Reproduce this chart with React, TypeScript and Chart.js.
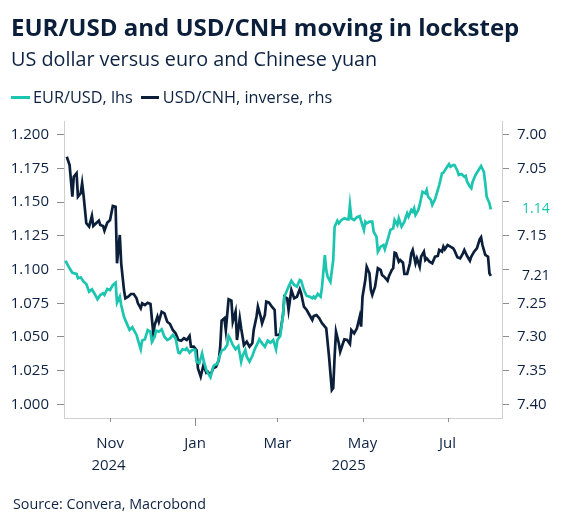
import { useEffect, useRef } from "react";
import { Chart, registerables } from "chart.js";

Chart.register(...registerables);

// Days are counted from 1 January 2025 (negative = 2024)
const EUR_DAYS = [
  -93, -90, -88, -85, -84, -82, -80, -78, -76, -74, -72, -70, -68, -66, -65, -63, -61, -59, -57, -56,
  -54, -53, -51, -49, -47, -45, -42, -41, -39, -38, -36, -34, -32, -31, -29, -28, -26, -24, -22, -20,
  -18, -16, -14, -12, -11, -9, -7, -6, -4, -2, 0, 1, 3, 5, 6, 8, 9, 11, 13, 14,
  16, 17, 19, 21, 23, 24, 25, 27, 29, 31, 33, 34, 36, 37, 39, 41, 43, 45, 46, 48,
  50, 52, 54, 56, 58, 59, 61, 63, 64, 66, 67, 69, 71, 73, 75, 76, 78, 80, 82, 84,
  85, 86, 88, 90, 91, 93, 94, 95, 97, 99, 100, 102, 103, 105, 107, 109, 110, 111, 112, 114,
  116, 118, 119, 121, 122, 123, 125, 127, 128, 130, 131, 133, 135, 136, 138, 140, 142, 143, 145, 146,
  148, 150, 152, 153, 155, 156, 157, 158, 160, 161, 163, 165, 166, 167, 169, 170, 172, 174, 175, 177,
  178, 180, 182, 183, 185, 186, 188, 189, 191, 193, 194, 195, 197, 198, 199, 201, 202, 204, 205, 207,
  208, 209, 211, 212,
];
const EUR_VALUES = [
  1.1065, 1.1009, 1.0976, 1.0967, 1.0935, 1.0942, 1.091, 1.0893, 1.0836, 1.0853, 1.0819, 1.0779, 1.0811, 1.0824, 1.0811, 1.0856, 1.0848, 1.0885, 1.0902, 1.0754,
  1.0799, 1.0737, 1.065, 1.0601, 1.0552, 1.0572, 1.0515, 1.0478, 1.0409, 1.0473, 1.0483, 1.0552, 1.0539, 1.0465, 1.0502, 1.0547, 1.0539, 1.0557, 1.0502, 1.0478,
  1.049, 1.0515, 1.049, 1.0384, 1.0379, 1.0409, 1.0404, 1.0416, 1.0384, 1.0404, 1.0404, 1.0317, 1.0305, 1.0379, 1.033, 1.0256, 1.0236, 1.0201, 1.028, 1.0293,
  1.03, 1.0342, 1.0399, 1.0409, 1.0441, 1.0507, 1.049, 1.0441, 1.0409, 1.0433, 1.0317, 1.0359, 1.0404, 1.0354, 1.0317, 1.0359, 1.0416, 1.0458, 1.0483, 1.0453,
  1.0428, 1.0473, 1.0458, 1.0478, 1.0409, 1.0478, 1.0507, 1.0663, 1.0799, 1.0848, 1.0873, 1.0917, 1.0885, 1.0873, 1.0922, 1.0917, 1.0848, 1.0804, 1.0799, 1.0787,
  1.0799, 1.0787, 1.0819, 1.0799, 1.0873, 1.1107, 1.0996, 1.0947, 1.091, 1.107, 1.1317, 1.1361, 1.1342, 1.1367, 1.1379, 1.1372, 1.1372, 1.1478, 1.1379, 1.1367,
  1.1387, 1.1396, 1.1361, 1.1293, 1.1354, 1.1342, 1.1354, 1.1354, 1.128, 1.1243, 1.1132, 1.1169, 1.1181, 1.115, 1.1219, 1.1293, 1.1305, 1.1367, 1.133, 1.1379,
  1.1317, 1.1354, 1.1416, 1.1391, 1.1441, 1.1428, 1.1453, 1.1404, 1.1441, 1.1478, 1.1576, 1.1564, 1.1589, 1.1539, 1.1515, 1.1478, 1.152, 1.1589, 1.1626, 1.1713,
  1.1717, 1.175, 1.1781, 1.1761, 1.1774, 1.1774, 1.1732, 1.17, 1.1707, 1.1687, 1.1693, 1.165, 1.1613, 1.1601, 1.165, 1.17, 1.1717, 1.175, 1.1767, 1.1724,
  1.1639, 1.1539, 1.149, 1.1445,
];

const CNH_DAYS = [
  -92, -90, -88, -87, -85, -84, -82, -81, -80, -78, -76, -74, -73, -71, -69, -68, -66, -65, -63, -61,
  -59, -57, -56, -54, -53, -51, -50, -48, -46, -44, -42, -41, -39, -38, -36, -34, -32, -30, -29, -27,
  -26, -24, -22, -20, -18, -16, -14, -12, -10, -8, -6, -4, -3, -1, 1, 2, 4, 6, 8, 9,
  11, 13, 15, 17, 18, 19, 21, 22, 24, 26, 27, 29, 30, 32, 33, 35, 37, 39, 41, 42,
  44, 45, 47, 48, 50, 51, 53, 55, 57, 58, 60, 61, 63, 64, 66, 67, 69, 71, 73, 75,
  76, 78, 80, 82, 84, 85, 87, 89, 91, 92, 94, 96, 98, 99, 100, 101, 103, 104, 106, 107,
  109, 111, 112, 114, 116, 118, 119, 120, 122, 123, 125, 126, 127, 129, 131, 133, 134, 136, 138, 139,
  141, 142, 143, 144, 146, 147, 149, 150, 152, 154, 155, 156, 158, 159, 161, 162, 164, 165, 166, 168,
  170, 172, 174, 175, 177, 178, 179, 181, 183, 185, 186, 188, 190, 192, 193, 195, 197, 198, 200, 202,
  204, 205, 206, 208, 210, 211, 212,
];
const CNH_VALUES = [
  7.0329, 7.0452, 7.0921, 7.0625, 7.0575, 7.0921, 7.0871, 7.0723, 7.0896, 7.1316, 7.1366, 7.1207, 7.1356, 7.1316, 7.1277, 7.1341, 7.1356, 7.1425, 7.1307, 7.1267,
  7.1059, 7.107, 7.1908, 7.1489, 7.1908, 7.2304, 7.2427, 7.2403, 7.2363, 7.2363, 7.2427, 7.2501, 7.2575, 7.2501, 7.2526, 7.2492, 7.2511, 7.2945, 7.2822, 7.2699,
  7.2773, 7.2625, 7.2649, 7.2773, 7.2807, 7.2896, 7.2945, 7.3044, 7.3055, 7.3019, 7.3044, 7.2985, 7.3144, 7.3144, 7.3193, 7.3464, 7.3588, 7.3415, 7.3529, 7.3514,
  7.3563, 7.3464, 7.344, 7.3341, 7.3144, 7.2759, 7.2723, 7.2896, 7.2441, 7.2462, 7.2773, 7.2625, 7.3044, 7.2723, 7.2871, 7.3119, 7.307, 7.3144, 7.3093, 7.2896,
  7.2699, 7.2551, 7.2699, 7.2797, 7.2674, 7.2477, 7.2492, 7.2551, 7.26, 7.297, 7.297, 7.2945, 7.2674, 7.2403, 7.2427, 7.26, 7.2304, 7.2427, 7.2403, 7.2293,
  7.2353, 7.2551, 7.26, 7.2674, 7.2748, 7.2689, 7.2674, 7.2723, 7.2797, 7.2822, 7.2871, 7.3292, 7.3785, 7.3756, 7.3292, 7.2921, 7.3093, 7.3218, 7.3093, 7.3034,
  7.3044, 7.3104, 7.2896, 7.2945, 7.2871, 7.2699, 7.2847, 7.2403, 7.2156, 7.1959, 7.2056, 7.2304, 7.2378, 7.2255, 7.1982, 7.2007, 7.2081, 7.2116, 7.2166, 7.2096,
  7.2007, 7.1982, 7.1751, 7.176, 7.1884, 7.1859, 7.1899, 7.2067, 7.2067, 7.1908, 7.176, 7.1711, 7.1908, 7.1834, 7.1959, 7.181, 7.1736, 7.1859, 7.1834, 7.1884,
  7.1908, 7.181, 7.18, 7.1711, 7.1736, 7.1662, 7.1701, 7.1637, 7.1662, 7.1686, 7.1721, 7.1819, 7.1834, 7.176, 7.1711, 7.18, 7.187, 7.181, 7.1736, 7.1686,
  7.1553, 7.1523, 7.1637, 7.1785, 7.181, 7.2056, 7.2096,
];

const MONTH_TICK_DAYS = [-61, 0, 59, 120, 181];
const MONTH_LABELS = ["Nov", "Jan", "Mar", "May", "Jul"];
const YEAR_LABELS = ["2024", "2025"];
const LEFT_TICKS = [1.0, 1.025, 1.05, 1.075, 1.1, 1.125, 1.15, 1.175, 1.2];
const RIGHT_TICKS = [7.0, 7.05, 7.1, 7.15, 7.2, 7.25, 7.3, 7.35, 7.4];

const X_MIN = -94;
const X_MAX = 220;
const L_MIN = 0.99;
const L_MAX = 1.21;
const R_MIN = 6.98;
const R_MAX = 7.42;

const TITLE = "EUR/USD and USD/CNH moving in lockstep";
const SUBTITLE = "US dollar versus euro and Chinese yuan";
const LEGEND_EUR = "EUR/USD, lhs";
const LEGEND_CNH = "USD/CNH, inverse, rhs";
const SOURCE = "Source: Convera, Macrobond";

const TEAL = "#1cc5b0";
const NAVY = "#0b1f3a";
const TEXT = "#0d2242";
const FONT = "'Open Sans', sans-serif";

const EUR_LAST = EUR_VALUES[EUR_VALUES.length - 1];
const CNH_LAST = CNH_VALUES[CNH_VALUES.length - 1];
const EUR_ON_RIGHT = R_MIN + ((L_MAX - EUR_LAST) / (L_MAX - L_MIN)) * (R_MAX - R_MIN);

const overlayPlugin = {
  id: "overlay",
  afterDraw(chart: any) {
    const { ctx, chartArea, scales } = chart;
    const x = scales.x;
    const yL = scales.yL;
    const yR = scales.yR;
    ctx.save();
    // x tick marks (year start is longer)
    ctx.strokeStyle = "#8c8c8c";
    ctx.lineWidth = 1;
    MONTH_TICK_DAYS.forEach((d) => {
      const px = Math.round(x.getPixelForValue(d)) + 0.5;
      const len = d === 0 ? 8 : 4;
      ctx.beginPath();
      ctx.moveTo(px, chartArea.bottom);
      ctx.lineTo(px, chartArea.bottom + len);
      ctx.stroke();
    });
    // year labels
    ctx.fillStyle = TEXT;
    ctx.font = `15px ${FONT}`;
    ctx.textAlign = "center";
    ctx.textBaseline = "middle";
    const yearY = chartArea.bottom + 48;
    ctx.fillText(YEAR_LABELS[0], x.getPixelForValue(MONTH_TICK_DAYS[0]) - 1.5, yearY);
    ctx.fillText(YEAR_LABELS[1], (x.getPixelForValue(0) + chartArea.right) / 2, yearY);
    // last value labels
    ctx.textAlign = "left";
    ctx.font = `14px ${FONT}`;
    ctx.fillStyle = TEAL;
    ctx.fillText(EUR_LAST.toFixed(2), yR.left + 20, yL.getPixelForValue(EUR_LAST));
    ctx.fillStyle = NAVY;
    ctx.fillText(CNH_LAST.toFixed(2), yR.left + 20, yR.getPixelForValue(CNH_LAST));
    ctx.restore();
  },
};

export default function App() {
  const canvasRef = useRef<HTMLCanvasElement | null>(null);

  useEffect(() => {
    if (!canvasRef.current) return;
    const tickFont = { family: FONT, size: 15 };
    const chart = new Chart(canvasRef.current, {
      type: "line",
      data: {
        datasets: [
          {
            label: LEGEND_EUR,
            data: EUR_DAYS.map((d, i) => ({ x: d, y: EUR_VALUES[i] })),
            borderColor: TEAL,
            borderWidth: 2.7,
            pointRadius: 0,
            tension: 0,
            yAxisID: "yL",
          },
          {
            label: LEGEND_CNH,
            data: CNH_DAYS.map((d, i) => ({ x: d, y: CNH_VALUES[i] })),
            borderColor: NAVY,
            borderWidth: 2.7,
            pointRadius: 0,
            tension: 0,
            yAxisID: "yR",
          },
        ],
      },
      options: {
        animation: false,
        responsive: false,
        devicePixelRatio: window.devicePixelRatio || 1,
        layout: { padding: { top: 121, left: 0, right: 0, bottom: 0 } },
        plugins: { legend: { display: false }, tooltip: { enabled: false }, title: { display: false } },
        scales: {
          x: {
            type: "linear",
            min: X_MIN,
            max: X_MAX,
            grid: { display: false },
            border: { display: true, color: "#cfcfcf", width: 1 },
            afterBuildTicks: (s: any) => {
              s.ticks = MONTH_TICK_DAYS.map((v) => ({ value: v }));
            },
            afterFit: (s: any) => {
              s.height = 103;
            },
            ticks: {
              autoSkip: false,
              maxRotation: 0,
              padding: 9,
              color: TEXT,
              font: tickFont,
              callback: (v: any) => {
                const i = MONTH_TICK_DAYS.indexOf(Number(v));
                return i >= 0 ? MONTH_LABELS[i] : "";
              },
            },
          },
          yL: {
            type: "linear",
            position: "left",
            min: L_MIN,
            max: L_MAX,
            grid: { drawOnChartArea: false, drawTicks: true, tickLength: 7, color: "#8c8c8c" },
            border: { display: true, color: "#cfcfcf", width: 1 },
            afterBuildTicks: (s: any) => {
              s.ticks = LEFT_TICKS.map((v) => ({ value: v }));
            },
            afterFit: (s: any) => {
              s.width = 64;
            },
            ticks: {
              padding: 8,
              color: TEXT,
              font: tickFont,
              callback: (v: any) => Number(v).toFixed(3),
            },
          },
          yR: {
            type: "linear",
            position: "right",
            reverse: true,
            min: R_MIN,
            max: R_MAX,
            grid: { drawOnChartArea: false, drawTicks: true, tickLength: 7, color: "#8c8c8c" },
            border: { display: true, color: "#cfcfcf", width: 1 },
            afterBuildTicks: (s: any) => {
              s.ticks = RIGHT_TICKS.map((v) => ({ value: v }));
            },
            afterFit: (s: any) => {
              s.width = 64;
            },
            ticks: {
              padding: 8,
              color: TEXT,
              font: tickFont,
              callback: (v: any) => {
                const n = Number(v);
                if (Math.abs(n - CNH_LAST) < 0.02 || Math.abs(n - EUR_ON_RIGHT) < 0.02) return "";
                return n.toFixed(2);
              },
            },
          },
        },
      },
      plugins: [overlayPlugin],
    } as any);
    return () => chart.destroy();
  }, []);

  return (
    <div style={{ position: "absolute", left: 0, top: 0, width: 566, height: 521, background: "#fff", fontFamily: FONT, color: TEXT }}>
      <canvas ref={canvasRef} width={566} height={521} style={{ position: "absolute", left: 0, top: 0, width: 566, height: 521 }} />
      <div style={{ position: "absolute", left: 11, top: 15, fontSize: 24, lineHeight: "24px", fontWeight: 700, letterSpacing: 0, whiteSpace: "nowrap", color: NAVY }}>
        {TITLE}
      </div>
      <div style={{ position: "absolute", left: 11, top: 49, fontSize: 19.8, lineHeight: "20px", whiteSpace: "nowrap" }}>
        {SUBTITLE}
      </div>
      <div style={{ position: "absolute", left: 11, top: 89, fontSize: 16.3, lineHeight: "17px", whiteSpace: "nowrap", display: "flex", alignItems: "center" }}>
        <span style={{ display: "inline-block", width: 19, height: 3, background: TEAL, marginRight: 3 }} />
        <span>{LEGEND_EUR}</span>
        <span style={{ display: "inline-block", width: 18, height: 3, background: NAVY, marginLeft: 8, marginRight: 4 }} />
        <span>{LEGEND_CNH}</span>
      </div>
      <div style={{ position: "absolute", left: 13, top: 496, fontSize: 14.3, lineHeight: "15px", whiteSpace: "nowrap" }}>
        {SOURCE}
      </div>
    </div>
  );
}
